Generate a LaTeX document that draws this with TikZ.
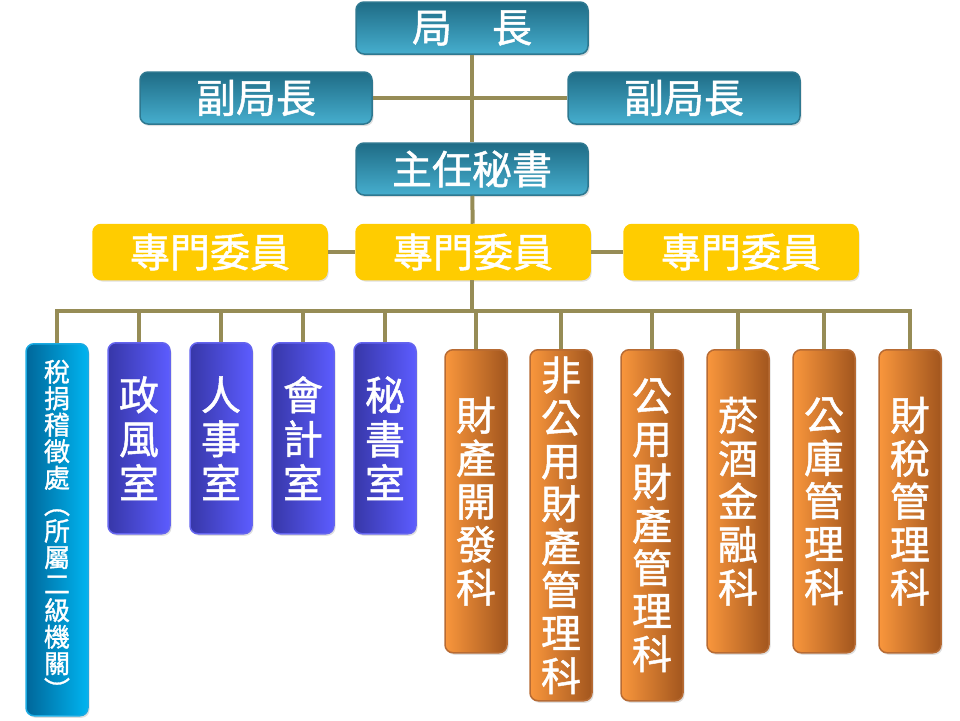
\documentclass[tikz,border=0pt]{standalone}
\usepackage{fontspec}
\setmainfont{Noto Sans CJK TC}[FakeBold=1.2]
\usetikzlibrary{shadows}

\definecolor{linkcol}{HTML}{968C56}
\definecolor{headtop}{HTML}{1F6C86}
\definecolor{headbot}{HTML}{46AECE}
\definecolor{headline}{HTML}{2E7890}
\definecolor{memberfill}{HTML}{FFCC00}
\definecolor{agencyleft}{HTML}{00679A}
\definecolor{agencyright}{HTML}{00B4F0}
\definecolor{agencyline}{HTML}{1AAAE2}
\definecolor{officeleft}{HTML}{3737A8}
\definecolor{officeright}{HTML}{5C5CFF}
\definecolor{officeline}{HTML}{6464EE}
\definecolor{sectionleft}{HTML}{F9963C}
\definecolor{sectionright}{HTML}{A2561E}
\definecolor{sectionline}{HTML}{B76B34}

\begin{document}
\begin{tikzpicture}[x=1pt, y=-1pt,
		box/.style={rounded corners=8pt, text=white, align=center, line width=1.5pt, drop shadow={opacity=0.25, shadow xshift=1.5pt, shadow yshift=-2pt}},
		head/.style={box, draw=headline, top color=headtop, bottom color=headbot, minimum width=232pt, minimum height=52pt, font=\fontsize{40}{44}\selectfont},
		member/.style={box, draw=memberfill, fill=memberfill, minimum width=234pt, minimum height=55pt, font=\fontsize{40}{44}\selectfont},
		agency/.style={box, anchor=north, draw=agencyline, left color=agencyleft, right color=agencyright, minimum width=62pt, font=\fontsize{26}{26.5}\selectfont},
		office/.style={box, anchor=north, draw=officeline, left color=officeleft, right color=officeright, minimum width=62pt, minimum height=191pt, font=\fontsize{40}{44}\selectfont},
		section/.style={box, anchor=north, draw=sectionline, left color=sectionleft, right color=sectionright, minimum width=62pt, font=\fontsize{40}{43}\selectfont},
		link/.style={draw=linkcol, line width=4pt}
	]
		\useasboundingbox (0,0) rectangle (960,720);

		\node (jz) [head] at (472,28) {局　長};
		\node (fj1) [head] at (256,98) {副局長};
		\node (fj2) [head] at (684,98) {副局長};
		\node (zm) [head] at (472,169) {主任秘書};

		\node (zw1) [member] at (210,252) {專門委員};
		\node (zw2) [member] at (473,252) {專門委員};
		\node (zw3) [member] at (741,252) {專門委員};

		\node (sj) [agency, minimum height=372pt] at (57,343) {稅\\捐\\稽\\徵\\處\\︵\\所\\屬\\二\\級\\機\\關\\︶};
		\node (zf) [office] at (139,342) {政\\風\\室};
		\node (rs) [office] at (221,342) {人\\事\\室};
		\node (kj) [office] at (303,342) {會\\計\\室};
		\node (ms) [office] at (385,342) {秘\\書\\室};
		\node (kf) [section, minimum height=303pt] at (476,349) {財\\產\\開\\發\\科};
		\node (fg) [section, minimum height=351pt] at (561,349) {非\\公\\用\\財\\產\\管\\理\\科};
		\node (gy) [section, minimum height=351pt] at (652,349) {公\\用\\財\\產\\管\\理\\科};
		\node (yj) [section, minimum height=303pt] at (738,349) {菸\\酒\\金\\融\\科};
		\node (gk) [section, minimum height=303pt] at (824,349) {公\\庫\\管\\理\\科};
		\node (cs) [section, minimum height=303pt] at (910,349) {財\\稅\\管\\理\\科};

		\coordinate (bus) at (472,311);

		\draw[link] (jz) -- (zm);
		\draw[link] (fj1) -- (fj2);
		\draw[link] (zm) -- (zw2);
		\draw[link] (zw1) -- (zw2);
		\draw[link] (zw2) -- (zw3);
		\draw[link] (zw2.south -| bus) -- (bus);
		\foreach \n in {sj,zf,rs,kj,ms,kf,fg,gy,yj,gk,cs}
			\draw[link] (bus) -| (\n.north);
	\end{tikzpicture}
\end{document}
